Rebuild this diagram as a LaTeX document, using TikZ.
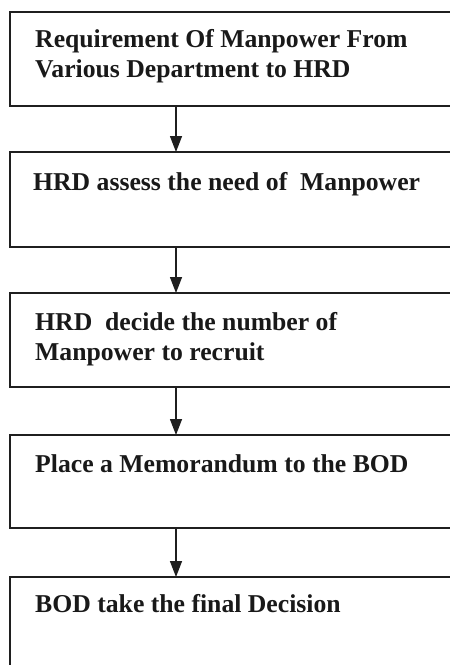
\documentclass[tikz,border=0pt]{standalone}
\usepackage{fontspec}
\setmainfont{Liberation Serif}
\usetikzlibrary{arrows.meta}
\begin{document}
\begin{tikzpicture}[x=1pt,y=-1pt,
  stagebox/.style={draw=black!88, line width=1.4pt, rectangle, anchor=north west,
    minimum width=470pt, inner sep=0pt, outer sep=0pt},
  stagetext/.style={anchor=base west, inner sep=0pt, text=black!90,
    font=\fontsize{25.7}{30}\selectfont\bfseries, align=left},
  flow/.style={draw=black!88, line width=1.4pt,
    -{Triangle[length=16pt,width=12pt]}}
]
\useasboundingbox (0,0) rectangle (450,665);
\clip (0,0) rectangle (450,665);

% the five stages of the recruitment flow
\node[stagebox, minimum height=94pt] (b1) at (10,12) {};
\node[stagebox, minimum height=95pt] (b2) at (10,152) {};
\node[stagebox, minimum height=94pt] (b3) at (10,293) {};
\node[stagebox, minimum height=93pt] (b4) at (10,435) {};
\node[stagebox, minimum height=130pt] (b5) at (10,577) {};

% text nodes are placed by the baseline of their last line
\node[stagetext] (t1) at (35,77) {Requirement Of Manpower From\\Various Department to HRD};
\node[stagetext] (t2) at (33,190) {HRD assess the need of \ Manpower};
\node[stagetext] (t3) at (35,360) {HRD \ decide the number of\\Manpower to recruit};
\node[stagetext] (t4) at (35,472) {Place a Memorandum to the BOD};
\node[stagetext] (t5) at (35,612) {BOD take the final Decision};

% downward arrows between consecutive stages
\foreach \a/\b in {b1/b2,b2/b3,b3/b4,b4/b5}
  \draw[flow] ([xshift=166pt]\a.south west) -- ([xshift=166pt]\b.north west);
\end{tikzpicture}
\end{document}
